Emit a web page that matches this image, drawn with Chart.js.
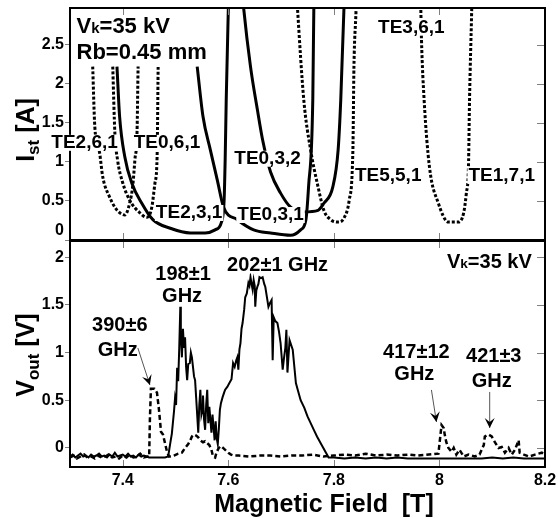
<!DOCTYPE html>
<html>
<head>
<meta charset="utf-8">
<script src="https://cdn.jsdelivr.net/npm/chart.js@4.4.0/dist/chart.umd.min.js"></script>
<style>
  body { margin:0; background:#fff; }
  #wrap { position:relative; width:558px; height:518px; overflow:hidden; }
  canvas { position:absolute; left:0; }
  .ttl { position:absolute; white-space:pre; line-height:1; color:#000;
         font-family:'Liberation Sans', Arial, sans-serif; font-weight:bold; font-size:25px; }
  .rot { transform:translate(-50%,-50%) rotate(-90deg); }
  .sb { font-size:17px; position:relative; top:5px; }
</style>
</head>
<body>
<div id="wrap">
  <canvas id="c1" width="558" height="241" style="top:0"></canvas>
  <canvas id="c2" width="558" height="278" style="top:240px"></canvas>
  <div class="ttl rot" style="left:25px;top:130px">I<span class="sb">st</span> [A]</div>
  <div class="ttl rot" style="left:25px;top:355px">V<span class="sb">out</span> [V]</div>
  <div class="ttl" style="left:324px;top:503px;transform:translate(-50%,-50%)">Magnetic Field  [T]</div>
</div>
<script>
const FONT = "'Liberation Sans', Arial, sans-serif";
Chart.defaults.font.family = FONT;
Chart.defaults.font.weight = 'bold';
Chart.defaults.font.size = 16;
Chart.defaults.color = '#000';

// axis ticks
const fieldTicks = [7.4, 7.6, 7.8, 8, 8.2];
const istTicks = [0, 0.5, 1, 1.5, 2, 2.5];
const voutTicks = [0, 0.5, 1, 1.5, 2];

// start current curves [B (T), Ist (A)]
const te261 = [[7.343,2.22],[7.347,1.45],[7.356,1.12],[7.362,0.81],[7.375,0.55],[7.385,0.42],[7.394,0.35],[7.404,0.32],[7.413,0.47],[7.419,0.70],[7.423,1.03],[7.427,1.38],[7.429,2.22]];
const te061 = [[7.381,2.22],[7.385,1.37],[7.390,1.03],[7.400,0.73],[7.413,0.51],[7.432,0.35],[7.446,0.29],[7.455,0.42],[7.461,0.73],[7.465,1.06],[7.467,2.22]];
const te231 = [[7.389,2.22],[7.394,1.58],[7.404,1.06],[7.417,0.73],[7.436,0.47],[7.457,0.26],[7.490,0.15],[7.528,0.09],[7.556,0.09],[7.575,0.13],[7.587,0.23],[7.592,0.51],[7.594,1.03],[7.596,1.79],[7.600,2.97],[7.601,3.2]];
const te031 = [[7.541,2.22],[7.552,1.58],[7.566,1.15],[7.579,0.77],[7.591,0.42],[7.617,0.26],[7.648,0.13],[7.680,0.09],[7.718,0.06],[7.737,0.13],[7.747,0.26],[7.752,0.68],[7.760,1.79],[7.762,2.97],[7.763,3.2]];
const te032 = [[7.626,3.2],[7.629,2.97],[7.642,2.22],[7.655,1.67],[7.665,1.28],[7.680,0.87],[7.699,0.60],[7.718,0.42],[7.743,0.36],[7.770,0.38],[7.781,0.47],[7.798,0.68],[7.808,1.15],[7.813,1.79],[7.819,2.95],[7.820,3.2]];
const te551 = [[7.729,3.2],[7.731,2.97],[7.743,1.79],[7.756,1.15],[7.770,0.68],[7.781,0.38],[7.794,0.26],[7.808,0.23],[7.819,0.28],[7.829,0.51],[7.836,1.15],[7.838,2.22],[7.842,2.95],[7.843,3.2]];
const te171 = [[7.964,3.2],[7.966,2.56],[7.971,1.79],[7.981,0.94],[7.998,0.47],[8.017,0.23],[8.036,0.23],[8.046,0.35],[8.051,0.60],[8.055,0.94],[8.057,1.79],[8.061,2.91],[8.062,3.2]];

// detector signal [B (T), Vout (V)]
const solidTrace = [[7.300,-0.09],[7.305,-0.07],[7.310,-0.10],[7.315,-0.08],[7.320,-0.06],[7.325,-0.09],[7.330,-0.08],[7.335,-0.10],[7.340,-0.07],[7.345,-0.09],[7.350,-0.08],[7.355,-0.06],[7.360,-0.09],[7.365,-0.08],[7.370,-0.10],[7.375,-0.07],[7.380,-0.09],[7.385,-0.05],[7.390,-0.09],[7.395,-0.08],[7.400,-0.07],[7.405,-0.09],[7.410,-0.06],[7.415,-0.09],[7.420,-0.08],[7.425,-0.10],[7.430,-0.07],[7.435,-0.09],[7.440,-0.08],[7.445,-0.09],[7.450,-0.10],[7.460,-0.10],[7.470,-0.10],[7.480,-0.10],[7.486,-0.09],
  [7.490,0.05],[7.493,0.15],[7.497,0.38],[7.499,0.52],[7.501,0.45],[7.503,0.84],[7.505,0.70],[7.507,1.05],[7.509,1.48],[7.510,1.20],[7.512,0.95],[7.514,1.25],[7.516,1.05],[7.518,1.16],[7.520,0.85],[7.522,0.71],[7.524,0.88],[7.527,0.89],[7.529,1.00],[7.531,0.95],[7.533,0.85],[7.535,0.75],[7.537,0.71],[7.539,0.53],[7.543,0.16],[7.545,0.45],[7.547,0.61],[7.549,0.35],[7.551,0.40],[7.552,0.55],[7.554,0.30],[7.556,0.19],[7.558,0.45],[7.560,0.61],[7.562,0.26],[7.564,0.43],[7.566,0.30],[7.568,0.16],[7.570,0.35],[7.572,0.22],[7.574,0.08],[7.576,0.28],[7.578,0.10],[7.580,0.04],[7.582,0.20],[7.584,0.40],[7.586,0.47],[7.589,0.53],[7.592,0.58],[7.594,0.61],[7.598,0.64],[7.602,0.68],[7.606,0.72],[7.609,0.89],[7.612,0.85],[7.615,0.92],[7.617,0.95],[7.619,0.82],[7.621,1.03],[7.623,1.10],[7.625,1.25],[7.627,1.31],[7.630,1.45],[7.632,1.58],[7.635,1.62],[7.638,1.73],[7.640,1.70],[7.642,1.79],[7.644,1.72],[7.646,1.66],[7.648,1.76],[7.650,1.70],[7.651,1.48],[7.653,1.65],[7.655,1.69],[7.657,1.72],[7.659,1.79],[7.662,1.78],[7.665,1.79],[7.668,1.72],[7.670,1.69],[7.674,1.55],[7.676,1.48],[7.679,1.52],[7.682,1.55],[7.684,0.92],[7.686,1.37],[7.689,1.33],[7.693,1.31],[7.696,1.22],[7.699,1.10],[7.703,0.82],[7.705,0.92],[7.708,1.05],[7.710,1.24],[7.712,0.79],[7.716,1.13],[7.722,1.03],[7.728,0.68],[7.732,0.60],[7.737,0.50],[7.744,0.42],[7.750,0.33],[7.756,0.26],[7.762,0.19],[7.768,0.12],[7.775,0.05],[7.785,-0.05],[7.790,-0.10],
  [7.80,-0.10],[7.82,-0.11],[7.84,-0.10],[7.86,-0.11],[7.88,-0.10],[7.90,-0.11],[7.92,-0.10],[7.94,-0.11],[7.96,-0.11],[7.98,-0.11],[8.00,-0.11],[8.02,-0.11],[8.04,-0.11],[8.06,-0.11],[8.08,-0.11],[8.10,-0.10],[8.12,-0.11],[8.14,-0.10],[8.16,-0.11],[8.18,-0.11],[8.20,-0.11]];
const dashTrace = [[7.300,-0.10],[7.307,-0.08],[7.313,-0.11],[7.320,-0.09],[7.327,-0.07],[7.333,-0.10],[7.340,-0.09],[7.347,-0.11],[7.353,-0.08],[7.360,-0.10],[7.367,-0.09],[7.373,-0.07],[7.380,-0.10],[7.387,-0.09],[7.393,-0.11],[7.400,-0.08],[7.407,-0.10],[7.413,-0.07],[7.420,-0.10],[7.427,-0.09],[7.433,-0.06],[7.440,-0.10],[7.447,-0.09],[7.450,-0.09],
  [7.4514,0.30],[7.4533,0.62],[7.460,0.62],[7.4648,0.58],[7.4686,0.40],[7.4724,0.17],[7.4762,0.14],[7.480,0.05],[7.4838,-0.04],[7.4876,-0.09],[7.492,-0.09],[7.497,-0.08],[7.505,-0.06],[7.512,-0.05],[7.518,0.00],[7.524,0.04],[7.528,0.08],[7.531,0.12],[7.535,0.14],[7.539,0.13],[7.543,0.11],[7.547,0.08],[7.552,0.06],[7.556,0.07],[7.560,0.05],[7.564,0.03],[7.568,-0.02],[7.571,-0.09],[7.575,-0.10],[7.578,-0.04],[7.582,0.00],[7.586,0.02],[7.590,0.00],[7.594,-0.02],[7.600,-0.05],[7.605,-0.07],[7.61,-0.08],
  [7.62,-0.08],[7.64,-0.09],[7.66,-0.08],[7.68,-0.08],[7.70,-0.09],[7.72,-0.08],[7.74,-0.08],[7.76,-0.07],[7.78,-0.09],[7.80,-0.08],[7.82,-0.07],[7.84,-0.08],[7.86,-0.06],[7.88,-0.08],[7.90,-0.07],[7.92,-0.08],[7.94,-0.07],[7.96,-0.08],[7.98,-0.07],[7.998,-0.06],
  [8.004,0.24],[8.008,0.21],[8.010,0.14],[8.013,0.06],[8.017,0.00],[8.023,-0.04],[8.027,0.00],[8.032,-0.07],[8.038,-0.02],[8.046,-0.09],[8.055,-0.07],[8.067,-0.09],[8.076,-0.07],[8.084,0.03],[8.086,0.12],[8.093,0.14],[8.099,0.12],[8.105,0.06],[8.112,0.00],[8.118,0.01],[8.124,-0.05],[8.131,0.00],[8.137,-0.07],[8.143,-0.02],[8.150,0.08],[8.152,-0.05],[8.160,-0.07],[8.170,-0.09],[8.181,-0.07],[8.194,-0.05],[8.200,-0.07]];

// labels anchored at data coordinates
const topNotes = [
  {t:'TE2,6,1', b:7.3276, v:1.244}, {t:'TE0,6,1', b:7.4838, v:1.244},
  {t:'TE0,3,2', b:7.6743, v:1.04}, {t:'TE2,3,1', b:7.5257, v:0.346},
  {t:'TE0,3,1', b:7.680, v:0.32}, {t:'TE5,5,1', b:7.9029, v:0.82},
  {t:'TE1,7,1', b:8.118, v:0.82}, {t:'TE3,6,1', b:7.9467, v:2.72}
];
const bottomNotes = [
  {t:'390±6', b:7.3943, v:1.279}, {t:'GHz', b:7.3905, v:1.017},
  {t:'198±1', b:7.5143, v:1.824}, {t:'GHz', b:7.5124, v:1.583},
  {t:'202±1 GHz', b:7.6933, v:1.918},
  {t:'417±12', b:7.9562, v:1.006}, {t:'GHz', b:7.9524, v:0.765},
  {t:'421±3', b:8.1029, v:0.954}, {t:'GHz', b:8.099, v:0.702}
];
const bottomArrows = [[7.4286,1.048,7.4514,0.66],[7.9848,0.608,7.9943,0.273],[8.0952,0.587,8.0952,0.21]];

const toXY = arr => arr.map(p => ({x:p[0], y:p[1]}));
const curve = (arr, dashed) => ({
  data: toXY(arr), borderColor:'#000', borderWidth:3, borderDash: dashed ? [3,2] : [],
  pointRadius:0, cubicInterpolationMode:'monotone', fill:false
});

const framePlugin = {
  id:'frame',
  afterDatasetsDraw(chart) {
    const {ctx, chartArea:a} = chart;
    const xs = chart.scales.x, ys = chart.scales.y;
    ctx.save();
    ctx.strokeStyle = '#808080';
    ctx.lineWidth = 1;
    ctx.beginPath();
    fieldTicks.forEach(v => {
      const px = Math.round(xs.getPixelForValue(v)) + 0.5;
      ctx.moveTo(px, a.top); ctx.lineTo(px, a.top + 7);
      ctx.moveTo(px, a.bottom); ctx.lineTo(px, a.bottom - 7);
    });
    ys.ticks.forEach(t => {
      const py = Math.round(ys.getPixelForValue(t.value)) + 0.5;
      ctx.moveTo(a.right, py); ctx.lineTo(a.right - 8, py);
    });
    ctx.stroke();
    ctx.strokeStyle = '#000';
    ctx.lineWidth = 2;
    ctx.strokeRect(a.left, a.top, a.right - a.left, a.bottom - a.top);
    ctx.restore();
  }
};

// text made of runs, e.g. V + small k
function drawRuns(ctx, runs, x, y, size, align) {
  let w = 0;
  runs.forEach(r => { ctx.font = `bold ${size * (r[1] || 1)}px ${FONT}`; w += ctx.measureText(r[0]).width; });
  let cx = align === 'right' ? x - w : x;
  ctx.textAlign = 'left';
  runs.forEach(r => {
    ctx.font = `bold ${size * (r[1] || 1)}px ${FONT}`;
    ctx.fillText(r[0], cx, y);
    cx += ctx.measureText(r[0]).width;
  });
}

function notesPlugin(notes, size, arrows, extra) {
  return {
    id:'notes',
    afterDraw(chart) {
      const {ctx} = chart;
      const xs = chart.scales.x, ys = chart.scales.y;
      ctx.save();
      ctx.fillStyle = '#000';
      notes.forEach(n => {
        const x = xs.getPixelForValue(n.b), y = ys.getPixelForValue(n.v);
        ctx.font = `bold ${size}px ${FONT}`;
        const w = ctx.measureText(n.t).width;
        ctx.fillStyle = '#fff';
        ctx.fillRect(x - w/2 - 1, y - size*0.42, w + 2, size*0.84);
        ctx.fillStyle = '#000';
        ctx.textAlign = 'center';
        ctx.textBaseline = 'middle';
        ctx.fillText(n.t, x, y);
      });
      (arrows || []).forEach(a => {
        const x1 = xs.getPixelForValue(a[0]), y1 = ys.getPixelForValue(a[1]);
        const x2 = xs.getPixelForValue(a[2]), y2 = ys.getPixelForValue(a[3]);
        const ang = Math.atan2(y2 - y1, x2 - x1);
        ctx.strokeStyle = '#555';
        ctx.lineWidth = 1;
        ctx.beginPath(); ctx.moveTo(x1, y1); ctx.lineTo(x2, y2); ctx.stroke();
        ctx.fillStyle = '#000';
        ctx.beginPath();
        ctx.moveTo(x2, y2);
        ctx.lineTo(x2 - 10*Math.cos(ang) + 5*Math.sin(ang), y2 - 10*Math.sin(ang) - 5*Math.cos(ang));
        ctx.lineTo(x2 - 6*Math.cos(ang), y2 - 6*Math.sin(ang));
        ctx.lineTo(x2 - 10*Math.cos(ang) - 5*Math.sin(ang), y2 - 10*Math.sin(ang) + 5*Math.cos(ang));
        ctx.closePath(); ctx.fill();
      });
      ctx.textBaseline = 'alphabetic';
      (extra || []).forEach(e => {
        drawRuns(ctx, e.runs, xs.getPixelForValue(e.b), ys.getPixelForValue(e.v), e.size, e.align);
      });
      ctx.restore();
    }
  };
}

const fmt = v => String(v);
const noPad = s => { s.paddingTop = 0; s.paddingBottom = 0; s.paddingLeft = 0; s.paddingRight = 0; };

// ---------- top panel: start currents ----------
new Chart(document.getElementById('c1'), {
  type:'line',
  data:{ datasets:[
    curve(te261, true), curve(te061, true), curve(te231, false), curve(te031, false),
    curve(te032, false), curve(te551, true), curve(te171, true)
  ]},
  options:{
    responsive:false, animation:false, devicePixelRatio:1,
    layout:{ padding:{top:8, right:13, bottom:1, left:0} },
    plugins:{ legend:{display:false}, tooltip:{enabled:false} },
    scales:{
      x:{ type:'linear', min:7.3, max:8.2,
          afterBuildTicks: s => { s.ticks = fieldTicks.map(v => ({value:v})); },
          ticks:{display:false}, grid:{display:false}, border:{display:false},
          afterFit: s => { s.height = 0; noPad(s); } },
      y:{ min:0, max:2.97,
          afterBuildTicks: s => { s.ticks = istTicks.map(v => ({value:v})); },
          afterFit: s => { s.width = 70; noPad(s); },
          grid:{drawOnChartArea:false, tickLength:5, color:'#808080'}, border:{display:false},
          ticks:{padding:1, autoSkip:false, callback: v => v === 0 ? ['0',''] : fmt(v)} }
    }
  },
  plugins:[framePlugin, notesPlugin(topNotes, 19, null, [
    {runs:[['V'],['k',0.68],['=35 kV']], b:7.3124, v:2.654, size:22},
    {runs:[['Rb=0.45 mm']], b:7.3124, v:2.321, size:22}
  ])]
});

// ---------- bottom panel: detector output ----------
new Chart(document.getElementById('c2'), {
  type:'line',
  data:{ datasets:[
    { data:toXY(dashTrace), borderColor:'#000', borderWidth:2.5, borderDash:[5,3], pointRadius:0, tension:0, fill:false },
    { data:toXY(solidTrace), borderColor:'#000', borderWidth:2, pointRadius:0, tension:0, fill:false }
  ]},
  options:{
    responsive:false, animation:false, devicePixelRatio:1,
    layout:{ padding:{top:1, right:13, bottom:0, left:0} },
    plugins:{ legend:{display:false}, tooltip:{enabled:false} },
    scales:{
      x:{ type:'linear', min:7.3, max:8.2,
          afterBuildTicks: s => { s.ticks = fieldTicks.map(v => ({value:v})); },
          afterFit: s => { s.height = 51; noPad(s); },
          grid:{display:false, drawTicks:false}, border:{display:false},
          ticks:{padding:4, maxRotation:0, autoSkip:false, callback: fmt} },
      y:{ min:-0.2, max:2.17,
          afterBuildTicks: s => { s.ticks = voutTicks.map(v => ({value:v})); },
          afterFit: s => { s.width = 70; noPad(s); },
          grid:{drawOnChartArea:false, tickLength:5, color:'#808080'}, border:{display:false},
          ticks:{padding:1, autoSkip:false, callback: fmt} }
    }
  },
  plugins:[framePlugin, notesPlugin(bottomNotes, 20, bottomArrows, [
    {runs:[['V'],['k',0.68],['=35 kV']], b:8.175, v:1.887, size:20, align:'right'}
  ])]
});
</script>
</body>
</html>
